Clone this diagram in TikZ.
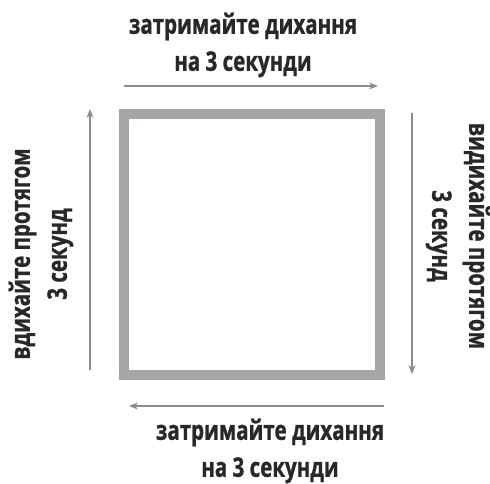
\documentclass[tikz,border=0pt]{standalone}
\usepackage{fontspec}
\setmainfont{Open Sans}[FakeStretch=0.76, BoldFeatures={FakeBold=1}]
\usetikzlibrary{arrows.meta}
\definecolor{frame}{RGB}{163,166,163}
\definecolor{arrowgray}{RGB}{140,140,140}
\definecolor{ink}{RGB}{40,40,40}

\begin{document}
\begin{tikzpicture}[
    x=1pt, y=-1pt,
    frame/.style={rectangle, draw=frame, line width=10pt, inner sep=0pt,
                  minimum width=256pt, minimum height=261pt},
    label/.style={font=\fontsize{27}{37}\selectfont\bfseries, text=ink, align=center, inner sep=0pt},
    arr/.style={-{Stealth[length=9pt, width=7pt]}, line width=1.4pt, color=arrowgray}
  ]
    \useasboundingbox (0,0) rectangle (490,484);

    \node[frame] (square) at (252,244.5) {};

    \coordinate (topfrom)   at (124,86);
    \coordinate (topto)     at (378,86);
    \coordinate (rightfrom) at (412,113);
    \coordinate (rightto)   at (412,374);
    \coordinate (botfrom)   at (384,406);
    \coordinate (botto)     at (129,406);
    \coordinate (leftfrom)  at (90,370);
    \coordinate (leftto)    at (90,109);

    \node[label] (hold1)   at (243,45)  {затримайте дихання\\на 3 секунди};
    \node[label] (hold2)   at (270,451) {затримайте дихання\\на 3 секунди};
    \node[label, rotate=90]  (inhale)  at (41,254)  {вдихайте протягом\\3 секунд};
    \node[label, rotate=-90] (exhale)  at (458,236) {видихайте протягом\\3 секунд};

    \draw[arr] (topfrom)   -- (topto);
    \draw[arr] (rightfrom) -- (rightto);
    \draw[arr] (botfrom)   -- (botto);
    \draw[arr] (leftfrom)  -- (leftto);
  \end{tikzpicture}
\end{document}
